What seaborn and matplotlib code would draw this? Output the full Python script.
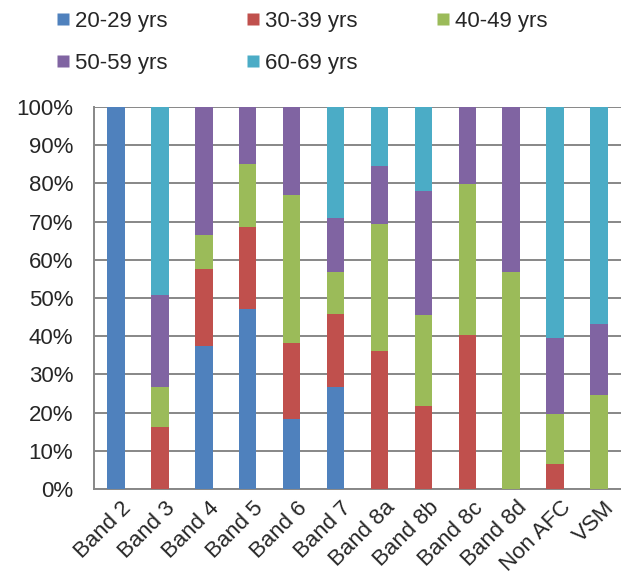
import numpy as np
import pandas as pd
import matplotlib
matplotlib.use("Agg")
import matplotlib.pyplot as plt
import matplotlib.transforms as mtransforms
import seaborn as sns
from matplotlib.lines import Line2D
from matplotlib.ticker import PercentFormatter, MultipleLocator

# Data (percent of each band)
bands = ["Band 2", "Band 3", "Band 4", "Band 5", "Band 6", "Band 7",
         "Band 8a", "Band 8b", "Band 8c", "Band 8d", "Non AFC", "VSM"]
age_groups = ["20-29 yrs", "30-39 yrs", "40-49 yrs", "50-59 yrs", "60-69 yrs"]
yrs_20_29 = [100, 0, 37.4, 47.1, 18.3, 26.6, 0, 0, 0, 0, 0, 0]
yrs_30_39 = [0, 16.2, 20.2, 21.4, 19.9, 19.1, 36.0, 21.8, 40.4, 0, 6.6, 0]
yrs_40_49 = [0, 10.6, 8.9, 16.7, 38.7, 11.0, 33.3, 23.8, 39.4, 56.7, 13.1, 24.5]
yrs_50_59 = [0, 24.1, 33.5, 14.8, 23.1, 14.2, 15.2, 32.4, 20.2, 43.3, 19.8, 18.6]
yrs_60_69 = [0, 49.1, 0, 0, 0, 29.1, 15.5, 22.0, 0, 0, 60.5, 56.9]
colors = ["#4F81BD", "#C0504D", "#9BBB59", "#8064A2", "#4BACC6"]

df = pd.DataFrame({"band": bands, "20-29 yrs": yrs_20_29, "30-39 yrs": yrs_30_39,
                   "40-49 yrs": yrs_40_49, "50-59 yrs": yrs_50_59, "60-69 yrs": yrs_60_69})
cum = df[age_groups].cumsum(axis=1)
cum = cum.div(cum["60-69 yrs"], axis=0) * 100
cum["band"] = bands

sns.set_style("white")
plt.rcParams["font.family"] = ["Liberation Sans", "DejaVu Sans"]
fs = 16

fig = plt.figure(figsize=(6.21, 5.75), dpi=100)
ax = fig.add_axes([94 / 621, 1 - 489 / 575, (621 - 94) / 621, 382 / 575])

# stacked bars: draw cumulative totals from the top series down
for grp, col in reversed(list(zip(age_groups, colors))):
    sns.barplot(data=cum, x="band", y=grp, color=col, width=0.4, ax=ax,
                saturation=1, edgecolor="none", zorder=3)

ax.set_xlim(-0.5, 11.21)
ax.set_ylim(0, 100)
ax.yaxis.set_major_locator(MultipleLocator(10))
ax.yaxis.set_major_formatter(PercentFormatter(decimals=0))
ax.set_xlabel("")
ax.set_ylabel("")

grid_col = "#878787"
ax.yaxis.grid(True, color=grid_col, linewidth=1.4, zorder=0)
ax.set_axisbelow(True)
for side in ["top", "right"]:
    ax.spines[side].set_visible(False)
for side in ["left", "bottom"]:
    ax.spines[side].set_color(grid_col)
    ax.spines[side].set_linewidth(1.4)

ax.set_xticks(np.arange(-0.5, 12, 1), minor=True)
ax.tick_params(axis="x", which="minor", length=5, width=1.4, color=grid_col)
ax.tick_params(axis="x", which="major", length=0, pad=6, labelsize=fs)
ax.tick_params(axis="y", length=5, width=1.4, color=grid_col, labelsize=fs, pad=10)
shift = mtransforms.ScaledTranslation(5 / 100, 0, fig.dpi_scale_trans)
for lbl in ax.get_xticklabels():
    lbl.set_rotation(45)
    lbl.set_ha("right")
    lbl.set_rotation_mode("anchor")
    lbl.set_transform(lbl.get_transform() + shift)

handles = [Line2D([], [], marker="s", linestyle="none", markersize=8.8,
                  markerfacecolor=c, markeredgecolor="none") for c in colors]
order = [0, 3, 1, 4, 2]
fig.legend([handles[i] for i in order], [age_groups[i] for i in order],
           loc="upper left", bbox_to_anchor=(56 / 621, 1 - 11 / 575), ncol=3,
           frameon=False, fontsize=fs, handlelength=0.6, handletextpad=0.25,
           columnspacing=3.55, labelspacing=0.95, borderaxespad=0, borderpad=0)

fig.savefig("out.png", dpi=100)
